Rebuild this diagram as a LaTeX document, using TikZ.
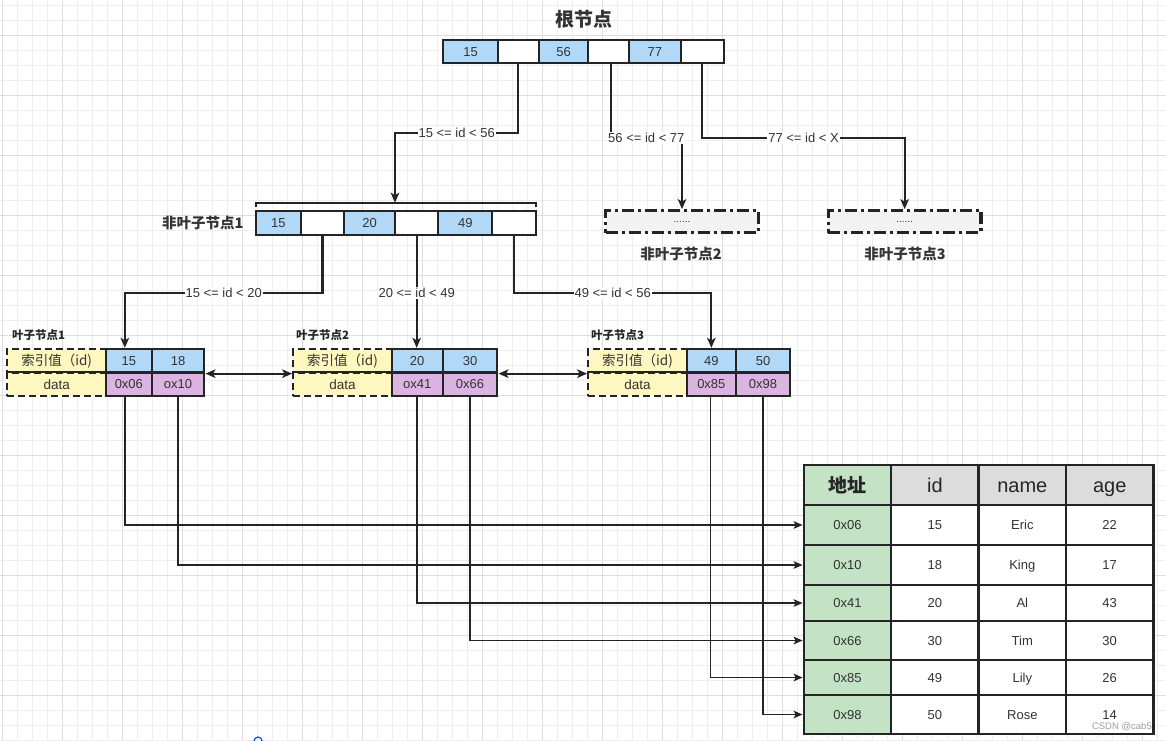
\documentclass[tikz,border=0pt]{standalone}
\usepackage{fontspec}
\setmainfont{Liberation Sans}
\newfontfamily\cjk{Noto Sans CJK SC}
\usetikzlibrary{arrows.meta}
\definecolor{blueF}{RGB}{178,216,247}
\definecolor{purF}{RGB}{220,180,226}
\definecolor{yelF}{RGB}{255,247,192}
\definecolor{grnF}{RGB}{195,227,196}
\definecolor{gryF}{RGB}{220,220,220}
\definecolor{dashF}{RGB}{242,242,242}
\definecolor{linec}{RGB}{36,36,36}
\definecolor{txt}{RGB}{51,51,51}
\definecolor{gridmin}{RGB}{238,238,238}
\definecolor{gridmaj}{RGB}{222,222,222}
\begin{document}
\begin{tikzpicture}[x=1pt,y=-1pt,
  cell/.style={draw=linec, line width=2.3pt, inner sep=0pt, text=txt, text height=9.4pt, text depth=0pt, font=\fontsize{13}{15}\selectfont},
  rootrow/.style={minimum height=23.3pt},
  nlrow/.style={minimum height=24.3pt},
  leafrow/.style={minimum height=23.5pt},
  bc/.style={cell, fill=blueF},
  wc/.style={cell, fill=white},
  pc/.style={cell, fill=purF},
  yc/.style={cell, fill=yelF, dash pattern=on 7pt off 4pt, leafrow, text height=9.7pt},
  ddnode/.style={draw=linec, line width=3.2pt, dash pattern=on 12pt off 4pt on 3pt off 4pt, fill=dashF, inner sep=0pt, minimum width=152.6pt, minimum height=22pt, text=txt, font=\fontsize{10}{11}\selectfont},
  conn/.style={draw=linec, line width=2.2pt, -{Stealth[length=10pt,width=8.5pt,inset=2.5pt]}},
  biconn/.style={draw=linec, line width=2.2pt, {Stealth[length=10pt,width=8.5pt,inset=2.5pt]}-{Stealth[length=10pt,width=8.5pt,inset=2.5pt]}},
  tconn/.style={draw=linec, line width=1.7pt, -{Stealth[length=9pt,width=7.5pt,inset=2pt]}},
  lbl/.style={fill=white, inner sep=1pt, text=txt, font=\fontsize{13}{15}\selectfont},
  ttl/.style={text=txt, font=\cjk\bfseries\fontsize{14.5}{16}\selectfont},
  leafttl/.style={anchor=west, inner sep=0pt, text=black!85, font=\cjk\bfseries\fontsize{11.5}{13}\selectfont},
  tcell/.style={draw=linec, line width=2.3pt, minimum width=87.4pt, inner sep=0pt, text=txt, text height=9.4pt, text depth=0pt, font=\fontsize{13}{15}\selectfont},
  thead/.style={tcell, minimum height=40pt, text=black!85, text height=14.4pt, font=\fontsize{20}{22}\selectfont}
]
\useasboundingbox (0,0) rectangle (1166,740);
\fill[white] (0,0) rectangle (1166,740);
% grid
\foreach \i in {0,...,77} \draw[gridmin, line width=1pt] ({2.7+15*\i},0) -- ({2.7+15*\i},740);
\foreach \j in {0,...,49} \draw[gridmin, line width=1pt] (0,{5+15*\j}) -- (1166,{5+15*\j});
\foreach \i in {0,...,19} \draw[gridmaj, line width=1pt] ({2.7+60*\i},0) -- ({2.7+60*\i},740);
\foreach \j in {0,...,11} \draw[gridmaj, line width=1pt] (0,{35+60*\j}) -- (1166,{35+60*\j});

% root
\node[ttl, font=\cjk\bfseries\fontsize{19}{21}\selectfont] (roottitle) at (584,19) {根节点};
\node[bc, rootrow, minimum width=54.4pt] (r1) at (470.5,51.65) {15};
\node[wc, rootrow, minimum width=41.3pt] (r2) at (518.35,51.65) {};
\node[bc, rootrow, minimum width=49.3pt] (r3) at (563.65,51.65) {56};
\node[wc, rootrow, minimum width=40.7pt] (r4) at (608.65,51.65) {};
\node[bc, rootrow, minimum width=51.7pt] (r5) at (654.85,51.65) {77};
\node[wc, rootrow, minimum width=43.3pt] (r6) at (702.35,51.65) {};

% non-leaf 1
\draw[linec, line width=2pt] (255.7,206.8) -- (255.7,202.7) -- (535.7,202.7) -- (535.7,206.8);
\coordinate (brk) at (395,202.7);
\node[ttl, anchor=east] (nl1t) at (247,222.8) {非叶子节点1};
\node[bc, nlrow, minimum width=45.3pt] (n1) at (278.35,222.85) {15};
\node[wc, nlrow, minimum width=43pt] (n2) at (322.5,222.85) {};
\node[bc, nlrow, minimum width=51pt] (n3) at (369.5,222.85) {20};
\node[wc, nlrow, minimum width=43.3pt] (n4) at (416.65,222.85) {};
\node[bc, nlrow, minimum width=54pt] (n5) at (465.3,222.85) {49};
\node[wc, nlrow, minimum width=43.4pt] (n6) at (514,222.85) {};

% non-leaf 2, 3
\node[ddnode] (nd2) at (682,221.7) {......};
\node[ddnode] (nd3) at (904.65,221.7) {......};
\node[ttl] (nd2t) at (681,253.5) {非叶子节点2};
\node[ttl] (nd3t) at (905,253.5) {非叶子节点3};

% root connectors
\coordinate (h1) at (0,132.7);
\coordinate (h2) at (0,138);
\coordinate (h3) at (0,293);
\draw[conn] (r2.south) -- (r2.south |- h1) -- node[lbl]{15 <= id < 56} (brk |- h1) -- (brk);
\draw[conn] ([xshift=2pt]r4.south) -- ([xshift=2pt]r4.south |- h2) -- node[lbl]{56 <= id < 77} (nd2.north |- h2) -- (nd2.north);
\draw[conn] (r6.south) -- (r6.south |- h2) -- node[lbl]{77 <= id < X} (nd3.north |- h2) -- (nd3.north);

% leaves
\node[leafttl] (lt1) at (12,335) {叶子节点1};
\node[leafttl] (lt2) at (296,335) {叶子节点2};
\node[leafttl] (lt3) at (591,335) {叶子节点3};

\node[yc, minimum width=98.7pt, font=\cjk\fontsize{13.5}{15}\selectfont] (l1i) at (56.65,360.75) {索引值（id)};
\node[yc, minimum width=98.7pt, font=\fontsize{13.5}{15}\selectfont] (l1d) at (56.65,384.25) {data};
\node[bc, leafrow, minimum width=45.7pt] (l1a) at (128.85,360.75) {15};
\node[bc, leafrow, minimum width=52.6pt] (l1b) at (178,360.75) {18};
\node[pc, leafrow, minimum width=45.7pt] (l1c) at (128.85,384.25) {0x06};
\node[pc, leafrow, minimum width=52.6pt] (l1e) at (178,384.25) {ox10};

\node[yc, minimum width=98.4pt, font=\cjk\fontsize{13.5}{15}\selectfont] (l2i) at (342.5,360.75) {索引值（id)};
\node[yc, minimum width=98.4pt, font=\fontsize{13.5}{15}\selectfont] (l2d) at (342.5,384.25) {data};
\node[bc, leafrow, minimum width=51pt] (l2a) at (417.2,360.75) {20};
\node[bc, leafrow, minimum width=54.6pt] (l2b) at (470,360.75) {30};
\node[pc, leafrow, minimum width=51pt] (l2c) at (417.2,384.25) {ox41};
\node[pc, leafrow, minimum width=54.6pt] (l2e) at (470,384.25) {0x66};

\node[yc, minimum width=98.4pt, font=\cjk\fontsize{13.5}{15}\selectfont] (l3i) at (637.5,360.75) {索引值（id)};
\node[yc, minimum width=98.4pt, font=\fontsize{13.5}{15}\selectfont] (l3d) at (637.5,384.25) {data};
\node[bc, leafrow, minimum width=49.3pt] (l3a) at (711.35,360.75) {49};
\node[bc, leafrow, minimum width=54pt] (l3b) at (763,360.75) {50};
\node[pc, leafrow, minimum width=49.3pt] (l3c) at (711.35,384.25) {0x85};
\node[pc, leafrow, minimum width=54pt] (l3e) at (763,384.25) {0x98};

% non-leaf connectors
\draw[conn] (n2.south) -- (n2.south |- h3) -- node[lbl]{15 <= id < 20} ([xshift=-4pt]l1a.north |- h3) -- ([xshift=-4pt]l1a.north);
\draw[conn] (n4.south) -- node[lbl, pos=0.51]{20 <= id < 49} (n4.south |- l2a.north);
\draw[conn] (n6.south) -- (n6.south |- h3) -- node[lbl]{49 <= id < 56} (l3a.north |- h3) -- (l3a.north);

% sibling links
\draw[biconn] (l1b.south east) -- (l2i.south west);
\draw[biconn] (l2b.south east) -- (l3i.south west);

% table
\node[thead, fill=grnF, text height=14pt, font=\cjk\bfseries\fontsize{19}{21}\selectfont] (th1) at (847.5,485) {地址};
\node[thead, fill=gryF] (th2) at (934.9,485) {id};
\node[thead, fill=gryF] (th3) at (1022.3,485) {name};
\node[thead, fill=gryF] (th4) at (1109.7,485) {age};
\foreach \r/\y/\h/\a/\b/\c/\d in {1/525/40/0x06/15/Eric/22, 2/565/40/0x10/18/King/17, 3/603/36/0x41/20/Al/43, 4/640.5/39/0x66/30/Tim/30, 5/677.5/35/0x85/49/Lily/26, 6/714.5/39/0x98/50/Rose/14}{
  \node[tcell, fill=grnF, minimum height=\h pt] (ta\r) at (847.5,\y) {\a};
  \node[tcell, fill=white, minimum height=\h pt] (tb\r) at (934.9,\y) {\b};
  \node[tcell, fill=white, minimum height=\h pt] (tc\r) at (1022.3,\y) {\c};
  \node[tcell, fill=white, minimum height=\h pt] (td\r) at (1109.7,\y) {\d};
}

% leaf -> table
\draw[tconn] ([xshift=-4pt]l1c.south) |- (ta1.west);
\draw[tconn] (l1e.south) |- (ta2.west);
\draw[tconn] (l2c.south) |- (ta3.west);
\draw[tconn] (l2e.south) |- (ta4.west);
\draw[tconn] ([xshift=-1pt]l3c.south) |- (ta5.west);
\draw[tconn] (l3e.south) |- (ta6.west);

\node[anchor=east, inner sep=0pt, text=black!38, font=\fontsize{9.5}{11}\selectfont] (wm) at (1152,726.5) {CSDN @cab5};
\draw[blue!70!cyan, line width=1.2pt] (258,741) circle (4);
\end{tikzpicture}
\end{document}
